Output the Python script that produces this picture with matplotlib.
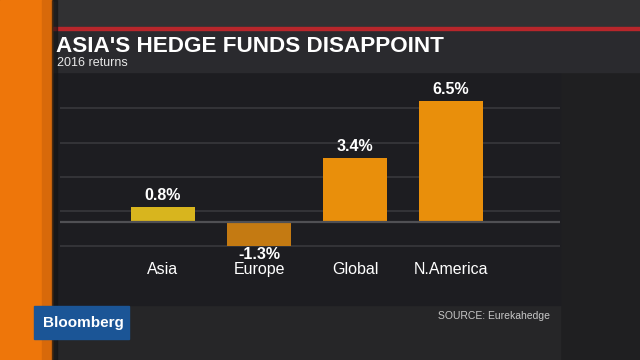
import matplotlib
matplotlib.use("Agg")
import matplotlib.pyplot as plt
from matplotlib.patches import Rectangle
import numpy as np

plt.rcParams['font.family'] = ['Liberation Sans', 'DejaVu Sans']

# data
regions = ["Asia", "Europe", "Global", "N.America"]
returns = [0.8, -1.3, 3.4, 6.5]
value_labels = ["0.8%", "-1.3%", "3.4%", "6.5%"]
bar_colors = ["#d8b51e", "#c47a12", "#e98f0b", "#e98f0b"]

title = "ASIA'S HEDGE FUNDS DISAPPOINT"
subtitle = "2016 returns"
source = "SOURCE: Eurekahedge"

fig = plt.figure(figsize=(6.4, 3.6), dpi=100)
fig.patch.set_facecolor("#242426")

# background drawn in pixel coords
bg = fig.add_axes([0, 0, 1, 1])
bg.set_xlim(0, 640)
bg.set_ylim(360, 0)
bg.axis("off")

bg.add_patch(Rectangle((0, 0), 640, 28, color="#313133"))
bg.add_patch(Rectangle((560, 72), 80, 288, color="#1f1f21"))
bg.add_patch(Rectangle((52, 305), 508, 55, color="#262628"))
bg.add_patch(Rectangle((52, 72), 508, 233, color="#1d1d21"))
bg.add_patch(Rectangle((52, 29), 588, 43, color="#2a2a2e"))
bg.add_patch(Rectangle((52, 27), 588, 3, color="#b8262b"))
# orange strip with a little shading
bg.add_patch(Rectangle((0, 0), 52, 360, color="#ee760a"))
bg.add_patch(Rectangle((42, 0), 10, 360, color="#d8690a"))
bg.add_patch(Rectangle((52, 0), 5, 360, color="#141414", alpha=0.6))

bg.text(56, 52, title, color="white", fontsize=16.2, fontweight="bold",
        va="baseline", ha="left")
bg.text(57, 66, subtitle, color="#e8e8e8", fontsize=9,
        va="baseline", ha="left")
bg.text(550, 319, source, color="#c8c8c8", fontsize=7.5,
        va="baseline", ha="right")

bg.add_patch(Rectangle((34, 306), 95, 33, color="#1b5596"))
bg.text(83, 323, "Bloomberg", color="white", fontsize=11, fontweight="bold",
        va="center", ha="center")

# chart
ax = fig.add_axes([60 / 640, 55 / 360, 500 / 640, 233 / 360])
ax.patch.set_alpha(0)
x = np.arange(len(regions))
ax.set_xlim(-1.073, 4.135)
ax.set_ylim(-4.48, 8.05)
ax.axis("off")

for g in np.linspace(-1.3, 6.1, 5):
    ax.axhline(g, color="#38383c", lw=1.2, zorder=1)
ax.axhline(0, color="#505054", lw=1.6, zorder=3)

ax.bar(x, returns, width=0.667, color=bar_colors, zorder=2)

for xi, v, lab in zip(x, returns, value_labels):
    if v >= 0:
        ax.annotate(lab, (xi, v), xytext=(0, 3), textcoords="offset points",
                    ha="center", va="bottom", color="white", fontsize=11.5,
                    fontweight="bold")
    else:
        ax.annotate(lab, (xi, v), xytext=(0, -1), textcoords="offset points",
                    ha="center", va="top", color="white", fontsize=11.5,
                    fontweight="bold")

for xi, name in zip(x, regions):
    ax.text(xi, -2.55, name, ha="center", va="center", color="white",
            fontsize=11.5)

fig.savefig("out.png", dpi=100, facecolor=fig.get_facecolor())
